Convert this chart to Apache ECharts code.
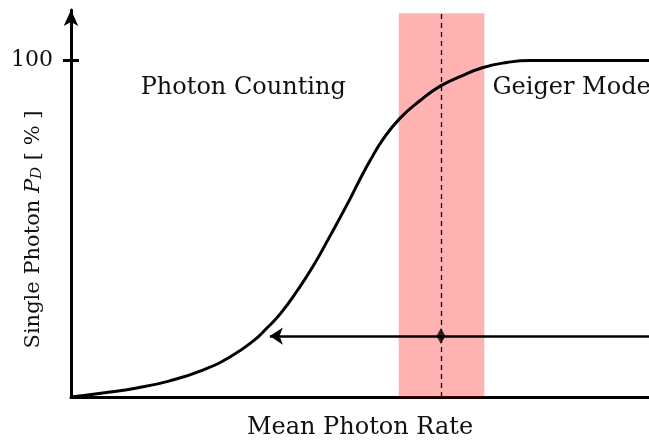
<!DOCTYPE html>
<html><head><meta charset="utf-8">
<script src="https://cdn.jsdelivr.net/npm/echarts@6/dist/echarts.min.js"></script>
<style>html,body{margin:0;padding:0;background:#fff}#c{width:649px;height:440px}</style>
</head><body><div id="c"></div>
<script>
// Data (x: mean photon rate in % of axis, y: detection probability %)
const curveX = [0, 5.5, 11.4, 17.1, 22.8, 27.5, 31.5, 33.9, 36.2, 39.1, 41.9, 44.8, 47.8, 50.0, 51.7, 54.0, 56.9, 60.4, 63.8, 67.3, 71.3, 75.4, 79.4, 84.6, 100];
const curveY = [0, 1.2, 2.7, 4.8, 8.0, 11.9, 16.6, 20.5, 24.7, 31.5, 38.9, 47.8, 57.3, 64.7, 70.1, 76.6, 82.8, 88.1, 92.3, 95.2, 97.9, 99.4, 100, 100, 100];
const bandX = [56.7, 71.5];
const bandTop = 114;
const dashX = 64;
const arrowY = 18.1;
const arrowX = [100, 34.4];
const yTicks = [100];
const labels = [
  {text: 'Photon Counting', x: 29.8, y: 91.8},
  {text: 'Geiger Mode', x: 86.6, y: 91.8}
];

const FONT = 'DejaVu Serif';
const chart = echarts.init(document.getElementById('c'), null, {renderer: 'canvas'});
chart.setOption({
  animation: false,
  grid: {left: 71, right: 0, top: 10, bottom: 43, outerBoundsMode: 'none', containLabel: false},
  xAxis: {
    type: 'value', min: 0, max: 100,
    axisLine: {show: true, lineStyle: {color: '#000', width: 3}},
    axisTick: {show: false}, axisLabel: {show: false}, splitLine: {show: false},
    name: 'Mean Photon Rate', nameLocation: 'middle', nameGap: 19, nameMoveOverlap: false,
    nameTextStyle: {fontFamily: FONT, fontSize: 24, color: '#111', verticalAlign: 'top'}
  },
  yAxis: [{
    type: 'value', min: 0, max: 115,
    axisLine: {show: true, lineStyle: {color: '#000', width: 3}, symbol: ['none', 'arrow'], symbolSize: [11, 16]},
    axisTick: {show: true, length: 8, lineStyle: {color: '#000', width: 3}, customValues: yTicks},
    axisLabel: {show: true, customValues: yTicks, margin: 18, fontFamily: FONT, fontSize: 22, color: '#111'},
    splitLine: {show: false},
    name: '{n|Single Photon }{i|P}{s|D}{n| [ % ]}', nameLocation: 'middle', nameGap: 26, nameRotate: 90, nameMoveOverlap: false,
    nameTextStyle: {
      padding: [0, 52, 0, 0],
      rich: {
        n: {fontFamily: FONT, fontSize: 21, color: '#111'},
        i: {fontFamily: FONT, fontSize: 21, fontStyle: 'italic', color: '#111'},
        s: {fontFamily: FONT, fontSize: 15, fontStyle: 'italic', color: '#111', verticalAlign: 'bottom', padding: [8, 0, 0, 0]}
      }
    }
  }, {
    type: 'value', min: 0, max: 115, position: 'left',
    axisLine: {show: false},
    axisTick: {show: true, inside: true, length: 8, lineStyle: {color: '#000', width: 3}, customValues: yTicks},
    axisLabel: {show: false}, splitLine: {show: false}
  }],
  series: [
    {
      type: 'line', z: 2,
      data: curveX.map((x, i) => [x, curveY[i]]),
      smooth: 0.5, showSymbol: false, symbol: 'none',
      lineStyle: {color: '#000', width: 3},
      markLine: {
        silent: true, symbol: ['none', 'none'], animation: false, label: {show: false},
        data: [
          [{coord: [dashX, 0], lineStyle: {type: [5, 4], width: 1.3, color: '#000'}}, {coord: [dashX, bandTop]}],
          [{coord: [arrowX[0], arrowY], symbol: 'none', lineStyle: {type: 'solid', width: 2.5, color: '#000'}}, {coord: [arrowX[1], arrowY], symbol: 'arrow', symbolSize: [13, 13]}]
        ]
      }
    },
    {
      type: 'scatter', z: 3, symbol: 'diamond', symbolSize: [9, 16],
      itemStyle: {color: '#000'},
      data: [[dashX, arrowY]]
    },
    {
      type: 'scatter', z: 6, symbol: 'circle', symbolSize: 2,
      itemStyle: {color: 'rgba(0,0,0,0)'},
      data: labels.map(l => ({value: [l.x, l.y], name: l.text})),
      label: {show: true, position: 'inside', formatter: p => p.name, fontFamily: FONT, fontSize: 24,
              color: '#111', opacity: 1, textBorderWidth: 0}
    },
    {
      type: 'line', z: 5, data: [],
      markArea: {
        silent: true,
        itemStyle: {color: 'rgba(255,0,0,0.3)'},
        data: [[{xAxis: bandX[0], yAxis: 0}, {xAxis: bandX[1], yAxis: bandTop}]]
      }
    }
  ]
});
</script></body></html>
